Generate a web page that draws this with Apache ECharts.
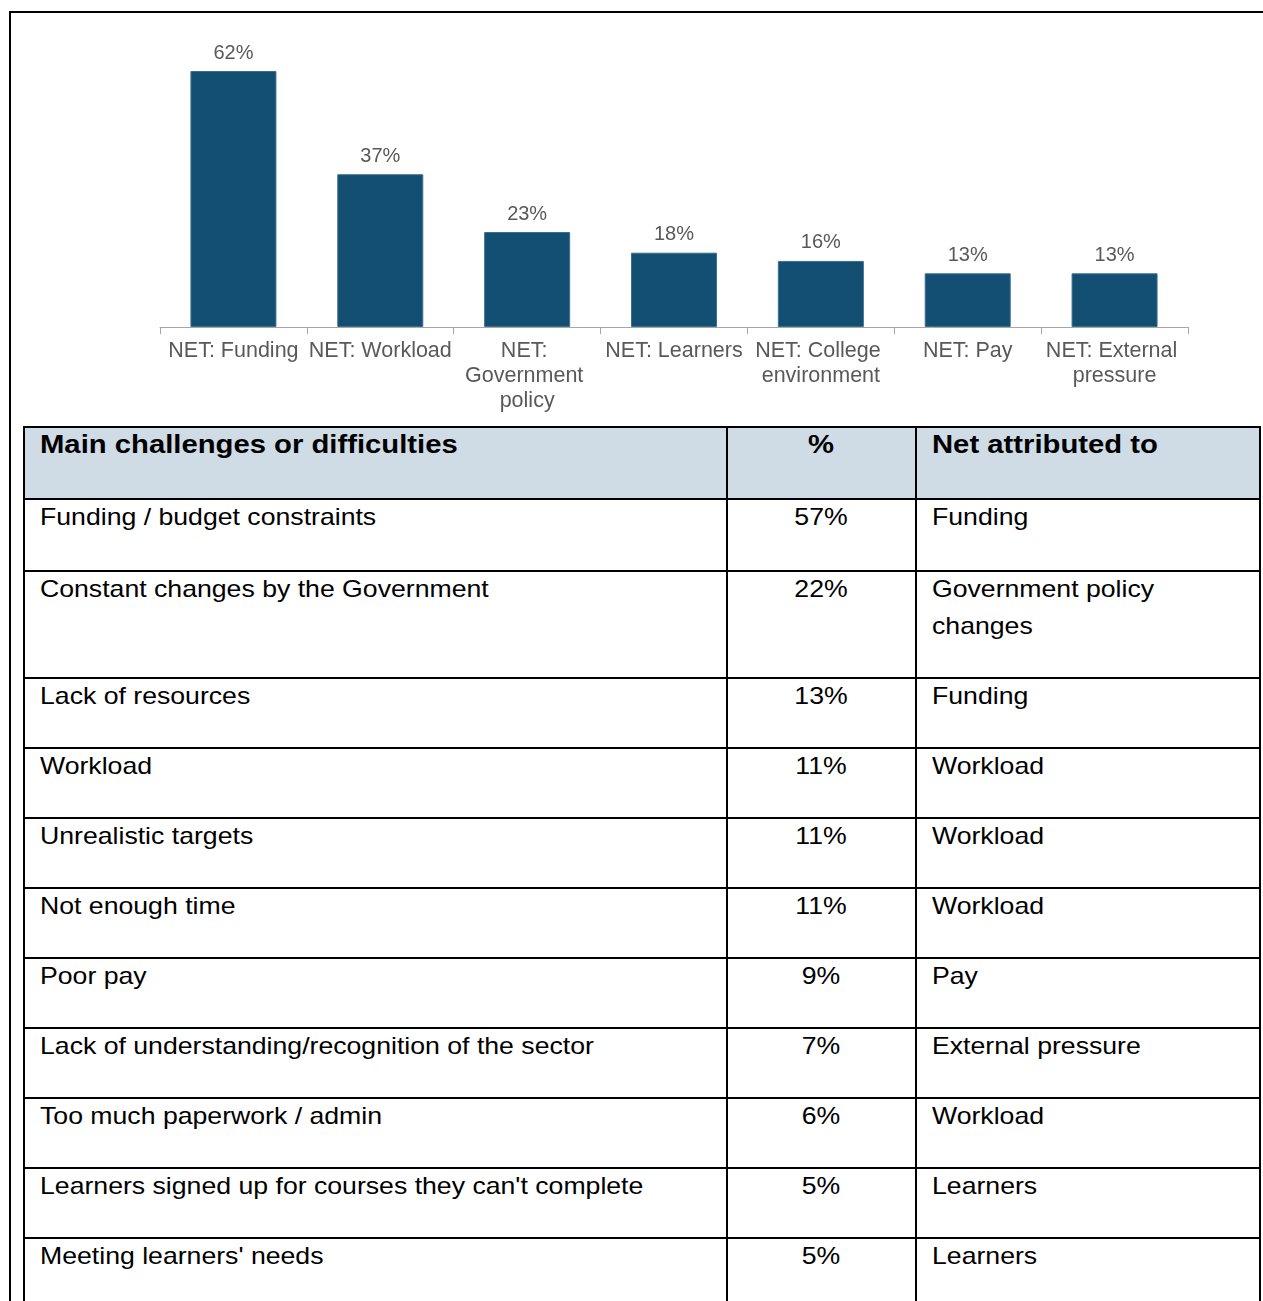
<!DOCTYPE html>
<html>
<head>
<meta charset="utf-8">
<script src="https://cdn.jsdelivr.net/npm/echarts@6/dist/echarts.min.js"></script>
<style>
  html, body { margin: 0; padding: 0; background: #fff; width: 1263px; height: 1301px; overflow: hidden; }
  #frame { position: absolute; left: 9px; top: 11px; width: 1400px; height: 1400px; border: 2px solid #000; box-sizing: border-box; }
  #chart { position: absolute; left: 0; top: 0; width: 1263px; height: 425px; }
  #tbl { position: absolute; left: 23px; top: 426px; border-collapse: collapse; table-layout: fixed; font-family: "Liberation Sans", Arial, sans-serif; font-size: 24px; color: #000; }
  #tbl td, #tbl th { border: 2px solid #000; line-height: 37px; padding: 0 10px 31px 15px; vertical-align: top; text-align: left; }
  #tbl th { background: #cfdce5; font-weight: bold; font-size: 25px; padding-bottom: 33px; }
  #tbl tr.first td { padding-bottom: 33px; }
  #tbl .t { position: relative; top: -2px; transform: scaleX(1.11); transform-origin: 0 0; width: 90.09%; white-space: normal; }
  #tbl th .t { transform: scaleX(1.17); width: 85.47%; }
  #tbl .c1 { width: 676px; }
  #tbl .c2 { width: 162px; text-align: center; padding-left: 12px; padding-right: 13px; }
  #tbl .c3 { width: 317px; }
</style>
</head>
<body>
<div id="frame"></div>
<div id="chart"></div>
<table id="tbl"></table>
<script>
// ---- chart data ----
const categories = ["NET: Funding", "NET: Workload", "NET: Government policy", "NET: Learners", "NET: College environment", "NET: Pay", "NET: External pressure"];
const values = [62, 37, 23, 18, 16, 13, 13];

// ---- table data ----
const tableHeaders = ["Main challenges or difficulties", "%", "Net attributed to"];
const challenges = ["Funding / budget constraints", "Constant changes by the Government", "Lack of resources", "Workload", "Unrealistic targets", "Not enough time", "Poor pay", "Lack of understanding/recognition of the sector", "Too much paperwork / admin", "Learners signed up for courses they can't complete", "Meeting learners' needs"];
const challengePct = [57, 22, 13, 11, 11, 11, 9, 7, 6, 5, 5];
const attributedTo = ["Funding", "Government policy changes", "Funding", "Workload", "Workload", "Workload", "Pay", "External pressure", "Workload", "Learners", "Learners"];

const chart = echarts.init(document.getElementById('chart'), null, { renderer: 'canvas' });
chart.setOption({
  animation: false,
  grid: { left: 160, right: 75, top: 71, bottom: 98 },
  xAxis: {
    type: 'category',
    data: categories,
    axisLine: { lineStyle: { color: '#a6a6a6', width: 1 } },
    axisTick: { show: true, length: 7, lineStyle: { color: '#a6a6a6' } },
    axisLabel: {
      interval: 0, margin: 12, color: '#595959', fontSize: 21.5, lineHeight: 25,
      fontFamily: 'Liberation Sans, Arial, sans-serif',
      width: 147, overflow: 'break'
    }
  },
  yAxis: { type: 'value', min: 0, max: 62, show: false, splitLine: { show: false } },
  series: [{
    type: 'bar',
    data: values,
    barWidth: 86,
    itemStyle: { color: '#124f73', borderColor: '#3b6f8f', borderWidth: 1 },
    label: {
      show: true, position: 'top', distance: 8, color: '#595959', fontSize: 20,
      fontFamily: 'Liberation Sans, Arial, sans-serif',
      formatter: p => p.value + '%'
    }
  }]
});

// ---- table ----
const tbl = document.getElementById('tbl');
function cell(tag, cls, text) {
  const el = document.createElement(tag);
  el.className = cls;
  const s = document.createElement('div');
  s.className = 't';
  s.textContent = text;
  el.appendChild(s);
  return el;
}
const hr = document.createElement('tr');
tableHeaders.forEach((h, i) => hr.appendChild(cell('th', 'c' + (i + 1), h)));
tbl.appendChild(hr);
challenges.forEach((c, i) => {
  const tr = document.createElement('tr');
  if (i === 0) tr.className = 'first';
  [c, challengePct[i] + '%', attributedTo[i]].forEach((v, j) => tr.appendChild(cell('td', 'c' + (j + 1), v)));
  tbl.appendChild(tr);
});
</script>
</body>
</html>
